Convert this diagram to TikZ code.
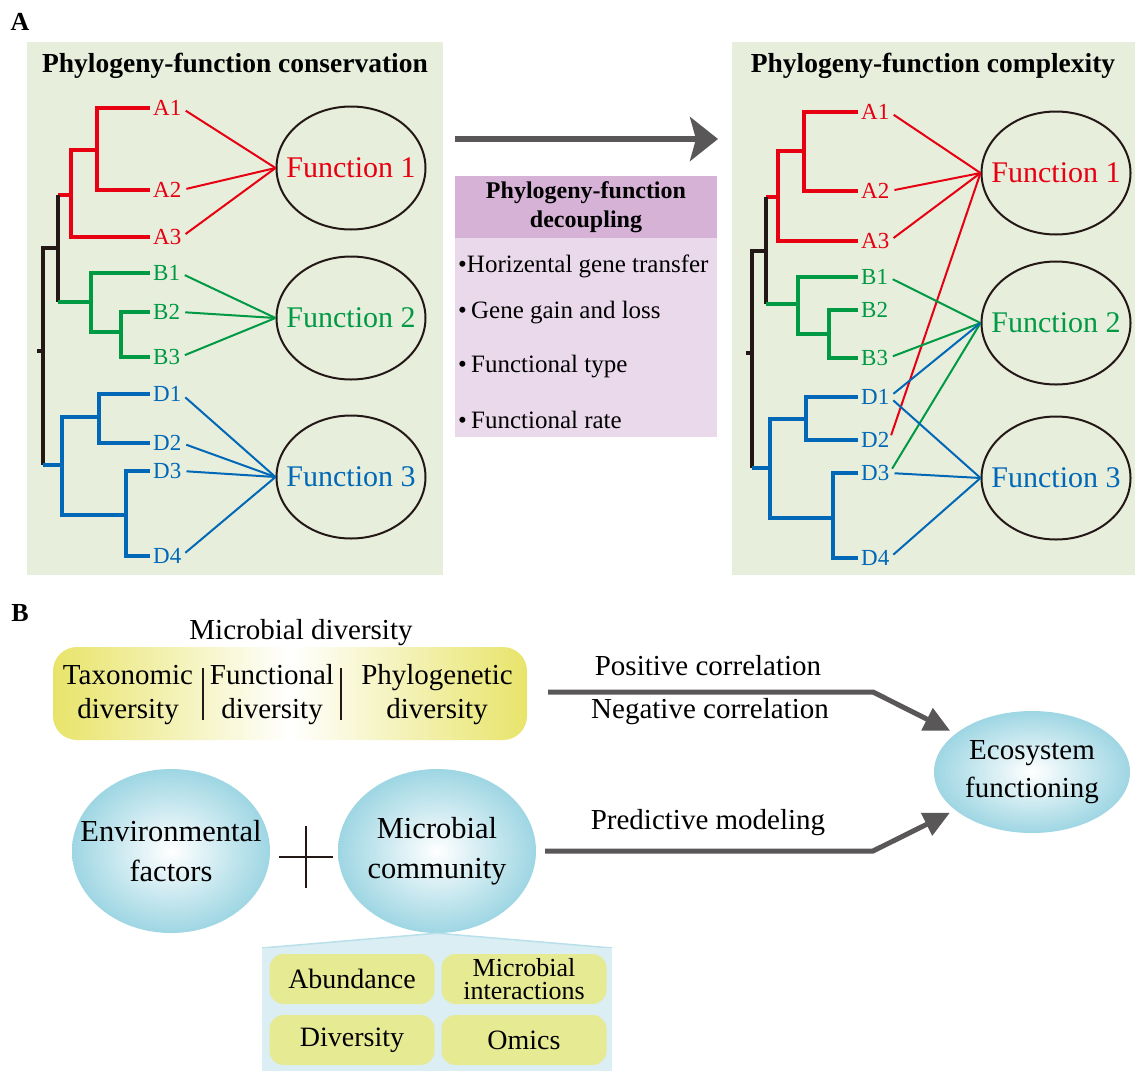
\documentclass[tikz,border=0pt]{standalone}
\usepackage{fontspec}
\setmainfont{Liberation Serif}
\usetikzlibrary{arrows.meta,shapes.geometric}
\definecolor{panelg}{HTML}{E8EEDC}
\definecolor{cred}{HTML}{E60012}
\definecolor{cgreen}{HTML}{009944}
\definecolor{cblue}{HTML}{0068B7}
\definecolor{cblack}{HTML}{231815}
\definecolor{cgray}{HTML}{595757}
\definecolor{phead}{HTML}{D5B2D6}
\definecolor{pbody}{HTML}{EAD9EB}
\definecolor{cyel}{HTML}{E8E46A}
\definecolor{bub}{HTML}{9ED6E3}
\definecolor{callb}{HTML}{DAEEF3}
\definecolor{callline}{HTML}{B9E0EA}
\definecolor{iyel}{HTML}{E5EA93}
\begin{document}
\begin{tikzpicture}[x=1pt,y=-1pt,
 tree/.style={line width=4pt, line join=miter},
 conn/.style={line width=2pt, shorten <=5pt},
 lab/.style={anchor=west, inner sep=0pt, font=\fontsize{23}{26}\selectfont},
 func/.style={ellipse, draw=cblack, line width=2pt, minimum width=149pt, minimum height=123pt, inner sep=0pt},
 ftext/.style={inner sep=0pt, font=\fontsize{30}{34}\selectfont},
 ptitle/.style={inner sep=0pt, font=\bfseries\fontsize{27.5}{30}\selectfont},
 bigarrow/.style={draw=cgray, line width=5.5pt, -{Stealth[length=28pt,width=44pt,inset=6pt]}},
 garrow/.style={draw=cgray, line width=5pt, -{Triangle[length=26pt,width=24pt]}},
 btext/.style={font=\fontsize{29}{34}\selectfont, align=center, inner sep=0pt},
 bubble/.style={ellipse, inner color=white, outer color=bub, minimum width=198pt, minimum height=164pt, inner sep=0pt},
 bubtext/.style={inner sep=0pt, align=center, font=\fontsize{30.5}{40}\selectfont},
 ibox/.style={fill=iyel, rounded corners=14pt, minimum width=165pt, minimum height=50pt, inner sep=0pt, align=center},
 item/.style={anchor=west, inner sep=0pt, font=\fontsize{25}{28}\selectfont},
 plabel/.style={inner sep=0pt, font=\bfseries\fontsize{26}{28}\selectfont}
]
\useasboundingbox (0,0) rectangle (1140,1071);
\fill[white] (0,0) rectangle (1140,1071);

% ---------------- Part A ----------------
\node[plabel] (labA) at (20,22) {A};

% left panel
\fill[panelg] (27,42) rectangle (443,575);
\node[ptitle] (tL) at (235,66) {Phylogeny-function conservation};

% left tree
\draw[tree,cred] (150,108) -| (97,190) -- (150,190);
\draw[tree,cred] (97,150) -| (71,237) -- (150,237);
\draw[tree,cred] (58,195) -- (71,195);
\draw[tree,cblack] (58,195) -- (58,302);
\draw[tree,cblack] (58,248) -| (43,465);
\draw[tree,cblack] (37,351) -- (43,351);
\draw[tree,cgreen] (58,302) -- (91,302);
\draw[tree,cgreen] (150,273) -| (91,332) -- (121,332);
\draw[tree,cgreen] (150,312) -| (121,357) -- (150,357);
\draw[tree,cblue] (43,465) -- (62,465);
\draw[tree,cblue] (99,417) -| (62,515) -- (126,515);
\draw[tree,cblue] (150,394) -| (99,443) -- (150,443);
\draw[tree,cblue] (150,471) -| (126,556) -- (150,556);

\node[lab,cred] (lA1) at (153,108) {A1};
\node[lab,cred] (lA2) at (153,190) {A2};
\node[lab,cred] (lA3) at (153,237) {A3};
\node[lab,cgreen] (lB1) at (153,273) {B1};
\node[lab,cgreen] (lB2) at (153,312) {B2};
\node[lab,cgreen] (lB3) at (153,357) {B3};
\node[lab,cblue] (lD1) at (153,394) {D1};
\node[lab,cblue] (lD2) at (153,443) {D2};
\node[lab,cblue] (lD3) at (153,471) {D3};
\node[lab,cblue] (lD4) at (153,556) {D4};

\node[func] (F1) at (351,168) {};
\node[func] (F2) at (351,318) {};
\node[func] (F3) at (351,477) {};
\node[ftext,text=cred] (F1t) at (F1) {Function 1};
\node[ftext,text=cgreen] (F2t) at (F2) {Function 2};
\node[ftext,text=cblue] (F3t) at (F3) {Function 3};

\draw[conn,cred] (lA1.east) -- (F1.west);
\draw[conn,cred] (lA2.east) -- (F1.west);
\draw[conn,cred] (lA3.east) -- (F1.west);
\draw[conn,cgreen] (lB1.east) -- (F2.west);
\draw[conn,cgreen] (lB2.east) -- (F2.west);
\draw[conn,cgreen] (lB3.east) -- (F2.west);
\draw[conn,cblue] (lD1.east) -- (F3.west);
\draw[conn,cblue] (lD2.east) -- (F3.west);
\draw[conn,cblue] (lD3.east) -- (F3.west);
\draw[conn,cblue] (lD4.east) -- (F3.west);

% middle arrow and box
\coordinate (arS) at (455,139);
\coordinate (arE) at (718,139);
\draw[bigarrow] (arS) -- (arE);

\fill[phead] (455,176) rectangle (717,238);
\fill[pbody] (455,238) rectangle (717,437);
\node[inner sep=0pt, align=center, font=\bfseries\fontsize{24}{29}\selectfont] (dhead) at (586,207) {Phylogeny-function\\decoupling};
\node[item] (it1) at (458,266) {\textbullet Horizental gene transfer};
\node[item] (it2) at (458,313) {\textbullet\,Gene gain and loss};
\node[item] (it3) at (458,367) {\textbullet\,Functional type};
\node[item] (it4) at (458,420) {\textbullet\,Functional rate};

% right panel
\fill[panelg] (732,42) rectangle (1135,575);
\node[ptitle] (tR) at (933,66) {Phylogeny-function complexity};

\draw[tree,cred] (858,112) -| (804,191) -- (858,191);
\draw[tree,cred] (804,151) -| (778,241) -- (858,241);
\draw[tree,cred] (766,197) -- (778,197);
\draw[tree,cblack] (766,197) -- (766,304);
\draw[tree,cblack] (766,251) -| (752,468);
\draw[tree,cblack] (746,353) -- (752,353);
\draw[tree,cgreen] (766,304) -- (798,304);
\draw[tree,cgreen] (858,277) -| (798,334) -- (829,334);
\draw[tree,cgreen] (858,310) -| (829,358) -- (858,358);
\draw[tree,cblue] (752,468) -- (770,468);
\draw[tree,cblue] (806,419) -| (770,518) -- (833,518);
\draw[tree,cblue] (858,397) -| (806,440) -- (858,440);
\draw[tree,cblue] (858,473) -| (833,558) -- (858,558);

\node[lab,cred] (rA1) at (861,112) {A1};
\node[lab,cred] (rA2) at (861,191) {A2};
\node[lab,cred] (rA3) at (861,241) {A3};
\node[lab,cgreen] (rB1) at (861,277) {B1};
\node[lab,cgreen] (rB2) at (861,310) {B2};
\node[lab,cgreen] (rB3) at (861,358) {B3};
\node[lab,cblue] (rD1) at (861,397) {D1};
\node[lab,cblue] (rD2) at (861,440) {D2};
\node[lab,cblue] (rD3) at (861,473) {D3};
\node[lab,cblue] (rD4) at (861,558) {D4};

\node[func] (G1) at (1056,173) {};
\node[func] (G2) at (1056,323) {};
\node[func] (G3) at (1056,478) {};
\node[ftext,text=cred] (G1t) at (G1) {Function 1};
\node[ftext,text=cgreen] (G2t) at (G2) {Function 2};
\node[ftext,text=cblue] (G3t) at (G3) {Function 3};

\draw[conn,cred] (rA1.east) -- (G1.west);
\draw[conn,cred] (rA2.east) -- (G1.west);
\draw[conn,cred] (rA3.east) -- (G1.west);
\draw[conn,cred] (rD2.east) -- (G1.west);
\draw[conn,cgreen] (rB1.east) -- (G2.west);
\draw[conn,cgreen] (rB3.east) -- (G2.west);
\draw[conn,cgreen] (rD3.east) -- (G2.west);
\draw[conn,cblue] (rD1.east) -- (G2.west);
\draw[conn,cblue] (rD1.east) -- (G3.west);
\draw[conn,cblue] (rD3.east) -- (G3.west);
\draw[conn,cblue] (rD4.east) -- (G3.west);

% ---------------- Part B ----------------
\node[plabel] (labB) at (20,613) {B};
\node[btext] (mdiv) at (301,633) {Microbial diversity};

\node[rounded corners=24pt, minimum width=474pt, minimum height=93pt, inner sep=0pt,
      left color=cyel, right color=cyel, middle color=white] (yb) at (290,693.5) {};
\node[btext] (tax) at (128,695) {Taxonomic\\diversity};
\node[btext] (fun) at (272,695) {Functional\\diversity};
\node[btext] (phy) at (437,695) {Phylogenetic\\diversity};
\draw[line width=1.8pt, cblack] (fun.west |- 0,668) ++(-7,0) -- ++(0,52);
\draw[line width=1.8pt, cblack] (fun.east |- 0,668) ++(7,0) -- ++(0,52);

\node[bubble, minimum width=196pt, minimum height=122pt] (eco) at (1032,772) {};
\node[bubtext, font=\fontsize{29}{38}\selectfont] (ecot) at (eco) {Ecosystem\\functioning};

\coordinate (t1) at (548,692);
\coordinate (t2) at (873,692);
\draw[garrow, shorten >=6pt] (t1) -- (t2) -- (eco);
\node[btext] (pos) at (708,666) {Positive correlation};
\node[btext] (neg) at (710,712) {Negative correlation};

\node[bubble] (env) at (171,851) {};
\node[bubble] (mc) at (437,851) {};
\node[bubtext] (envt) at (env) {Environmental\\factors};
\node[bubtext] (mct) at (mc) {Microbial\\community};

\coordinate (plus) at (306,857);
\draw[line width=2pt, cblack] ([xshift=-27pt]plus) -- ([xshift=27pt]plus);
\draw[line width=2pt, cblack] ([yshift=-31pt]plus) -- ([yshift=31pt]plus);

\coordinate (t3) at (545,851);
\coordinate (t4) at (873,851);
\draw[garrow, shorten >=6pt] (t3) -- (t4) -- (eco);
\node[btext] (pred) at (708,823) {Predictive modeling};

% callout
\coordinate (cl) at (262,948);
\coordinate (cr) at (612,948);
\fill[callb] (mc.south) -- (cr) -- (cl) -- cycle;
\draw[callline, line width=1.5pt] (mc.south) -- (cl);
\draw[callline, line width=1.5pt] (mc.south) -- (cr);
\fill[callb] (cl) rectangle (612,1071);

\node[ibox, font=\fontsize{28}{30}\selectfont] (abu) at (352,979) {Abundance};
\node[ibox, font=\fontsize{26}{23.5}\selectfont] (mint) at (524,979) {Microbial\\interactions};
\node[ibox, font=\fontsize{28}{30}\selectfont] (dive) at (352,1040) {Diversity};
\node[ibox, font=\fontsize{28}{30}\selectfont] (omi) at (524,1040) {Omics};
\end{tikzpicture}
\end{document}
